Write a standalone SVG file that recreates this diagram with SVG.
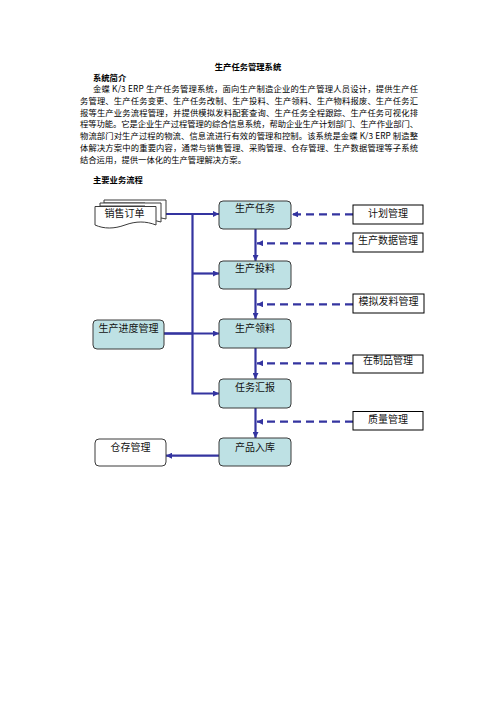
<svg xmlns="http://www.w3.org/2000/svg" width="496" height="702" viewBox="0 0 496 702">
<style>
.t{font-family:"Noto Sans CJK SC","Liberation Serif",serif;font-size:8.3px;fill:#000}
.b{font-weight:bold}
.n{font-family:"Noto Sans CJK SC","Liberation Sans",sans-serif;font-size:10px;fill:#111;text-anchor:middle}
.task{fill:#BEE1E4;stroke:#3a3a3a;stroke-width:1}
.white{fill:#fff;stroke:#3a3a3a;stroke-width:1}
.box{fill:#fff;stroke:#000;stroke-width:1}
.ln{fill:none;stroke:#3434A0;stroke-width:2.2}
.dash{fill:none;stroke:#3434A0;stroke-width:2.2;stroke-dasharray:8 5}
</style>
<defs>
<marker id="ah" viewBox="0 0 10 10" refX="10" refY="5" markerWidth="7" markerHeight="6" markerUnits="userSpaceOnUse" orient="auto">
<path d="M0,0 L10,5 L0,10 z" fill="#3434A0"/>
</marker>
</defs>
<rect width="496" height="702" fill="#fff"/>
<g id="text">
<text class="t b" x="248" y="69.5" text-anchor="middle">生产任务管理系统</text>
<text class="t b" x="93" y="80.8">系统简介</text>
<text class="t" x="93" y="92.4" textLength="325" lengthAdjust="spacing">金蝶 K/3 ERP 生产任务管理系统，面向生产制造企业的生产管理人员设计，提供生产任</text>
<text class="t" x="80" y="104" textLength="338" lengthAdjust="spacing">务管理、生产任务变更、生产任务改制、生产投料、生产领料、生产物料报废、生产任务汇</text>
<text class="t" x="80" y="115.7" textLength="338" lengthAdjust="spacing">报等生产业务流程管理，并提供模拟发料配套查询、生产任务全程跟踪、生产任务可视化排</text>
<text class="t" x="80" y="127.4" textLength="338" lengthAdjust="spacing">程等功能。它是企业生产过程管理的综合信息系统，帮助企业生产计划部门、生产作业部门、</text>
<text class="t" x="80" y="139.1" textLength="338" lengthAdjust="spacing">物流部门对生产过程的物流、信息流进行有效的管理和控制。该系统是金蝶 K/3 ERP 制造整</text>
<text class="t" x="80" y="150.8" textLength="338" lengthAdjust="spacing">体解决方案中的重要内容，通常与销售管理、采购管理、仓存管理、生产数据管理等子系统</text>
<text class="t" x="80" y="162.5">结合运用，提供一体化的生产管理解决方案。</text>
<text class="t b" x="93" y="182.5">主要业务流程</text>
</g>
<g id="connectors">
<path class="ln" d="M165,214 H219" marker-end="url(#ah)"/>
<path class="ln" d="M192.5,214 V393.5 H219" marker-end="url(#ah)"/>
<path class="ln" d="M192.5,273.5 H219" marker-end="url(#ah)"/>
<path class="ln" d="M164,333.5 H219" marker-end="url(#ah)"/>
<path class="ln" d="M164,333.5 H192.5" stroke-width="3.2"/>
<path class="ln" d="M255.5,229 V261" marker-end="url(#ah)"/>
<path class="ln" d="M255.5,289 V319" marker-end="url(#ah)"/>
<path class="ln" d="M255.5,348 V379" marker-end="url(#ah)"/>
<path class="ln" d="M255.5,408 V438" marker-end="url(#ah)"/>
<path class="ln" d="M219,455.7 H166" marker-end="url(#ah)"/>
<path class="dash" d="M353,214.3 H292" marker-end="url(#ah)"/>
<path class="dash" d="M353,243.3 H257" marker-end="url(#ah)"/>
<path class="dash" d="M353,304.3 H257" marker-end="url(#ah)"/>
<path class="dash" d="M353,363.3 H257" marker-end="url(#ah)"/>
<path class="dash" d="M353,421.7 H257" marker-end="url(#ah)"/>
</g>
<g id="n-xsdd">
<path class="white" d="M104,200 H166 V219 C158,217 152,217 145,219 V203 H104 Z"/>
<path class="white" d="M100,203 H161 V222 C154,220 150,220 145,221 V206 H100 Z"/>
<path class="white" d="M95,206.5 H156 V225 C146,221 136,221 125,225 C114,229 104,229 95,225 Z"/>
<text class="n" x="124.5" y="217">销售订单</text>
</g>
<g id="n-scrw"><rect class="task" x="219" y="201" width="72" height="28" rx="4"/><text class="n" x="255" y="212">生产任务</text></g>
<g id="n-sctl"><rect class="task" x="219" y="261" width="72" height="28" rx="4"/><text class="n" x="255" y="271.5">生产投料</text></g>
<g id="n-scll"><rect class="task" x="219" y="319" width="72" height="29" rx="4"/><text class="n" x="255" y="331.5">生产领料</text></g>
<g id="n-rwhb"><rect class="task" x="219" y="379" width="72" height="29" rx="4"/><text class="n" x="255" y="390.5">任务汇报</text></g>
<g id="n-cprk"><rect class="task" x="219" y="438" width="72" height="28" rx="4"/><text class="n" x="255" y="450.5">产品入库</text></g>
<g id="n-scjd"><rect class="task" x="93" y="320" width="71" height="29" rx="4"/><text class="n" x="128.5" y="331.5">生产进度管理</text></g>
<g id="n-ccgl"><rect class="white" x="95" y="439" width="71" height="27" rx="4"/><text class="n" x="130.5" y="451">仓存管理</text></g>
<g id="n-jhgl"><rect class="box" x="353" y="205" width="70" height="19"/><text class="n" x="388" y="216.5">计划管理</text></g>
<g id="n-scsj"><rect class="box" x="353" y="233" width="70" height="19"/><text class="n" x="388" y="244">生产数据管理</text></g>
<g id="n-mnfl"><rect class="box" x="353" y="294" width="71" height="19"/><text class="n" x="388.5" y="304.5">模拟发料管理</text></g>
<g id="n-zzp"><rect class="box" x="353" y="355" width="70" height="18"/><text class="n" x="388" y="364">在制品管理</text></g>
<g id="n-zlgl"><rect class="box" x="353" y="411.5" width="70" height="18.5"/><text class="n" x="388" y="422.8">质量管理</text></g>
</svg>
